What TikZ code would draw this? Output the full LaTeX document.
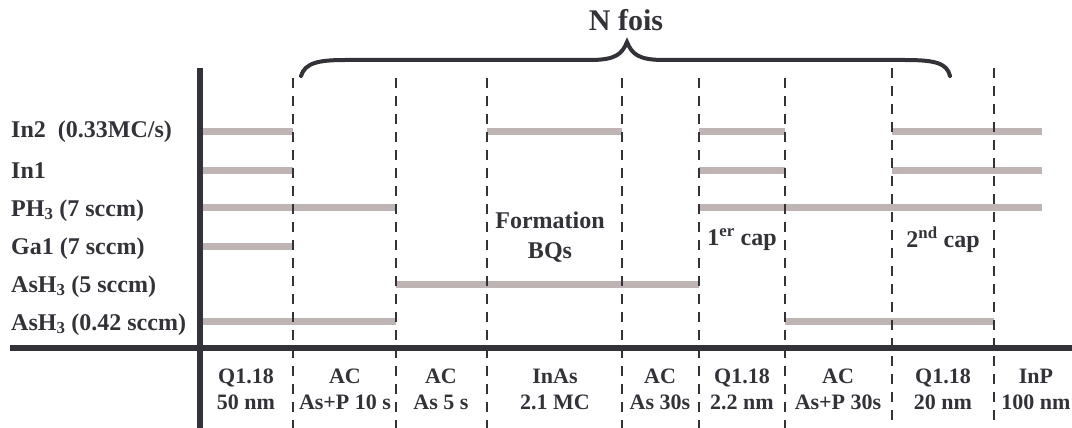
\documentclass[tikz,border=0pt]{standalone}
\usepackage{fontspec}
\setmainfont{Liberation Serif}
\usetikzlibrary{positioning}
\definecolor{axisgray}{RGB}{50,50,56}
\definecolor{flowgray}{RGB}{190,180,179}
\tikzset{
  axis/.style={line width=6pt, draw=axisgray},
  stepline/.style={line width=1.8pt, draw=axisgray, dash pattern=on 10pt off 8pt},
  flow/.style={line width=7pt, draw=flowgray},
  gaslabel/.style={anchor=base west, inner sep=0pt, font=\fontsize{24}{26}\selectfont\bfseries, text=axisgray},
  steplabel/.style={align=center, inner sep=0pt, font=\fontsize{22}{26}\selectfont\bfseries, text=axisgray},
  phaselabel/.style={align=center, inner sep=0pt, font=\fontsize{24}{30}\selectfont\bfseries, text=axisgray},
  bracebar/.style={line width=4pt, draw=axisgray, line cap=round}
}

\begin{document}
\begin{tikzpicture}[x=1pt, y=-1pt]
\useasboundingbox (0,0) rectangle (1072,428);
% time marks
\coordinate (t0) at (200,0);
\coordinate (t1) at (293,0);
\coordinate (t2) at (396,0);
\coordinate (t3) at (487,0);
\coordinate (t4) at (622,0);
\coordinate (t5) at (699,0);
\coordinate (t6) at (785,0);
\coordinate (t7) at (892,0);
\coordinate (t8) at (994,0);
\coordinate (tend) at (1042,0);
% gas rows
\coordinate (rIn2) at (0,131);
\coordinate (rIn1) at (0,170);
\coordinate (rPH3) at (0,207);
\coordinate (rGa1) at (0,246);
\coordinate (rAsH3a) at (0,284);
\coordinate (rAsH3b) at (0,321);
% flows
\draw[flow] (t0 |- rIn2) -- (t1 |- rIn2);
\draw[flow] (t3 |- rIn2) -- (t4 |- rIn2);
\draw[flow] (t5 |- rIn2) -- (t6 |- rIn2);
\draw[flow] (t7 |- rIn2) -- (tend |- rIn2);
\draw[flow] (t0 |- rIn1) -- (t1 |- rIn1);
\draw[flow] (t5 |- rIn1) -- (t6 |- rIn1);
\draw[flow] (t7 |- rIn1) -- (tend |- rIn1);
\draw[flow] (t0 |- rPH3) -- (t2 |- rPH3);
\draw[flow] (t5 |- rPH3) -- (tend |- rPH3);
\draw[flow] (t0 |- rGa1) -- (t1 |- rGa1);
\draw[flow] (t2 |- rAsH3a) -- (t5 |- rAsH3a);
\draw[flow] (t0 |- rAsH3b) -- (t2 |- rAsH3b);
\draw[flow] (t6 |- rAsH3b) -- (t8 |- rAsH3b);
% dashed step limits
\foreach \t in {1,...,6}
  \draw[stepline] (t\t |- 0,78) -- (t\t |- 0,428);
\foreach \t in {7,8}
  \draw[stepline] (t\t |- 0,68) -- (t\t |- 0,428);
% axes
\draw[axis] (t0 |- 0,68) -- (t0 |- 0,428);
\draw[axis] (10,348) -- (1072,348);
% gas labels
\node[gaslabel] (lIn2) at ([yshift=-8]11,130) {In2\ \ (0.33MC/s)};
\node[gaslabel] (lIn1) at ([yshift=-8]11,170) {In1};
\node[gaslabel] (lPH3) at ([yshift=-8]11,208) {PH\textsubscript{3} (7 sccm)};
\node[gaslabel] (lGa1) at ([yshift=-8]11,246) {Ga1 (7 sccm)};
\node[gaslabel] (lAsH3a) at ([yshift=-8]11,284) {AsH\textsubscript{3} (5 sccm)};
\node[gaslabel] (lAsH3b) at ([yshift=-8]11,322) {AsH\textsubscript{3} (0.42 sccm)};
% step labels
\node[steplabel] (s1) at (246,389) {Q1.18\\50 nm};
\node[steplabel] (s2) at (345,389) {AC\\As+P 10 s};
\node[steplabel] (s3) at (441,389) {AC\\As 5 s};
\node[steplabel] (s4) at (555,389) {InAs\\2.1 MC};
\node[steplabel] (s5) at (660,389) {AC\\As 30s};
\node[steplabel] (s6) at (742,389) {Q1.18\\2.2 nm};
\node[steplabel] (s7) at (838,389) {AC\\As+P 30s};
\node[steplabel] (s8) at (943,389) {Q1.18\\20 nm};
\node[steplabel] (s9) at (1036,389) {InP\\100 nm};
% phases
\node[phaselabel] (qd) at (550,237) {Formation\\BQs};
\node[phaselabel] (cap1) at (742,240) {1\textsuperscript{er} cap};
\node[phaselabel] (cap2) at (943,240) {2\textsuperscript{nd} cap};
% repeat brace
\draw[bracebar] (301,76) .. controls (305,63) and (318,60) .. (345,60) -- (590,60)
  .. controls (616,60) and (622,54) .. (627,42)
  .. controls (632,54) and (638,60) .. (664,60) -- (905,60)
  .. controls (935,60) and (947,63) .. (950,76);
\node[font=\fontsize{30}{30}\selectfont\bfseries, text=axisgray] (nfois) at (626,20) {N fois};
\end{tikzpicture}
\end{document}
